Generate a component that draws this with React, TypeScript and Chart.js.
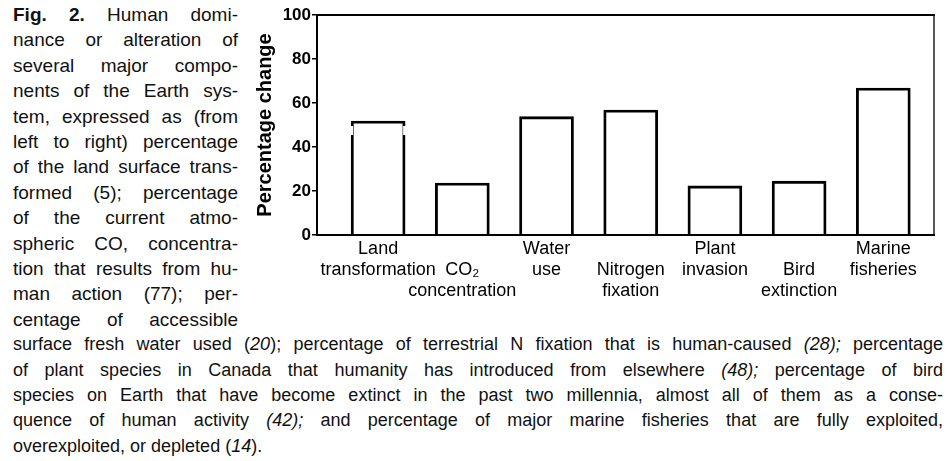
import React, { useEffect, useRef } from "react";
import { Chart, registerables } from "chart.js";

Chart.register(...registerables);

// ---------- data ----------
const categories: string[][] = [
  ["Land", "transformation"],
  ["", "CO₂", "concentration"],
  ["Water", "use"],
  ["", "Nitrogen", "fixation"],
  ["Plant", "invasion"],
  ["", "Bird", "extinction"],
  ["Marine", "fisheries"],
];
const percentChange: number[] = [51.8, 23.6, 53.8, 56.8, 22.3, 24.5, 66.8];
const yTickValues: number[] = [0, 20, 40, 60, 80, 100];
const yAxisTitle = "Percentage change";
// the first bar is drawn with a small break just below its top edge
const brokenBars: number[] = [0];

const FONT = "'Liberation Sans', Arial, Helvetica, sans-serif";

const framePlugin = {
  id: "frame",
  afterDatasetsDraw(chart: any) {
    const { ctx } = chart;
    const meta = chart.getDatasetMeta(0);
    ctx.save();
    ctx.strokeStyle = "#fff";
    ctx.lineWidth = 4;
    brokenBars.forEach((idx) => {
      const el = meta.data[idx];
      if (!el) return;
      const half = el.width / 2;
      ctx.beginPath();
      ctx.moveTo(el.x - half, el.y + 5);
      ctx.lineTo(el.x - half, el.y + 14);
      ctx.moveTo(el.x + half, el.y + 5);
      ctx.lineTo(el.x + half, el.y + 14);
      ctx.stroke();
    });
    ctx.restore();
  },
  afterDraw(chart: any) {
    const { ctx, chartArea: a } = chart;
    ctx.save();
    ctx.strokeStyle = "#000";
    ctx.lineCap = "square";
    ctx.lineWidth = 2;
    ctx.beginPath();
    ctx.moveTo(a.left, a.bottom);
    ctx.lineTo(a.left, a.top);
    ctx.lineTo(a.right, a.top);
    ctx.moveTo(a.left, a.bottom);
    ctx.lineTo(a.right, a.bottom);
    ctx.stroke();
    ctx.lineWidth = 1.3;
    ctx.beginPath();
    ctx.moveTo(a.right, a.top);
    ctx.lineTo(a.right, a.bottom);
    ctx.stroke();
    ctx.restore();
  },
};

function BarChart() {
  const ref = useRef<HTMLCanvasElement | null>(null);
  useEffect(() => {
    if (!ref.current) return;
    const chart = new Chart(ref.current, {
      type: "bar",
      data: {
        datasets: [
          {
            data: percentChange.map((v, i) => ({ x: i, y: v })) as any,
            backgroundColor: "rgba(255,255,255,0)",
            borderColor: "#000",
            borderWidth: 2.2,
            barThickness: 54,
          },
        ],
      },
      options: {
        responsive: false,
        animation: false,
        events: [],
        layout: { padding: { top: 15, right: 13, left: 0, bottom: 0 } },
        plugins: { legend: { display: false }, tooltip: { enabled: false } },
        scales: {
          x: {
            type: "linear",
            offset: false,
            min: -0.726,
            max: 6.602,
            afterBuildTicks: (s: any) => {
              s.ticks = categories.map((_, i) => ({ value: i }));
            },
            afterFit: (s: any) => {
              s.height = 65;
            },
            ticks: {
              autoSkip: false,
              maxRotation: 0,
              minRotation: 0,
              padding: 4,
              color: "#000",
              font: { family: FONT, size: 18, lineHeight: 1.15 },
              callback: (v: any) => categories[v as number] ?? "",
            },
            grid: { display: false, drawTicks: false },
            border: { display: false },
          },
          y: {
            min: 0,
            max: 100,
            afterBuildTicks: (s: any) => {
              s.ticks = yTickValues.map((v) => ({ value: v }));
            },
            afterFit: (s: any) => {
              s.width = 67;
            },
            ticks: {
              padding: 1,
              color: "#000",
              font: { family: FONT, size: 17, weight: "bold" },
            },
            grid: {
              drawOnChartArea: false,
              drawTicks: true,
              tickLength: 5,
              color: "#000",
              lineWidth: 1.5,
            },
            border: { display: false },
            title: {
              display: true,
              text: yAxisTitle,
              color: "#000",
              font: { family: FONT, size: 20, weight: "bold" },
              padding: { top: 3, bottom: 0 },
            },
          },
        },
      },
      plugins: [framePlugin],
    });
    return () => chart.destroy();
  }, []);
  return (
    <canvas
      ref={ref}
      width={697}
      height={300}
      style={{ position: "absolute", left: 250, top: 0, width: 697, height: 300 }}
    />
  );
}

const LH = 25.4;
const TOP0 = 2;

const lineStyle = (
  i: number,
  left: number,
  width: number,
  fontSize: number,
  justify = true
): React.CSSProperties => ({
  position: "absolute",
  left,
  top: TOP0 + i * LH,
  width,
  height: LH,
  fontSize,
  lineHeight: `${LH}px`,
  whiteSpace: "nowrap",
  textAlign: justify ? "justify" : "left",
  textAlignLast: justify ? "justify" : "left",
});

export default function App() {
  const leftLines: React.ReactNode[] = [
    <><b>Fig. 2.</b> Human domi-</>,
    <>nance or alteration of</>,
    <>several major compo-</>,
    <>nents of the Earth sys-</>,
    <>tem, expressed as (from</>,
    <>left to right) percentage</>,
    <>of the land surface trans-</>,
    <>formed (5); percentage</>,
    <>of the current atmo-</>,
    <>spheric CO, concentra-</>,
    <>tion that results from hu-</>,
    <>man action (77); per-</>,
    <>centage of accessible</>,
  ];
  const bottomLines: React.ReactNode[] = [
    <>surface fresh water used (<i>20</i>); percentage of terrestrial N fixation that is human-caused <i>(28);</i> percentage</>,
    <>of plant species in Canada that humanity has introduced from elsewhere <i>(48);</i> percentage of bird</>,
    <>species on Earth that have become extinct in the past two millennia, almost all of them as a conse-</>,
    <>quence of human activity <i>(42);</i> and percentage of major marine fisheries that are fully exploited,</>,
    <>overexploited, or depleted (<i>14</i>).</>,
  ];
  return (
    <div
      style={{
        position: "fixed",
        left: 0,
        top: 0,
        width: 947,
        height: 461,
        background: "#fff",
        color: "#111",
        fontFamily: FONT,
        fontSize: 18,
        overflow: "hidden",
      }}
    >
      {leftLines.map((l, i) => (
        <div key={"l" + i} style={lineStyle(i, 13, 225, 19)}>
          {l}
        </div>
      ))}
      {bottomLines.map((l, i) => (
        <div
          key={"b" + i}
          style={lineStyle(i + leftLines.length, 13, 930, 18, i < bottomLines.length - 1)}
        >
          {l}
        </div>
      ))}
      <BarChart />
    </div>
  );
}
